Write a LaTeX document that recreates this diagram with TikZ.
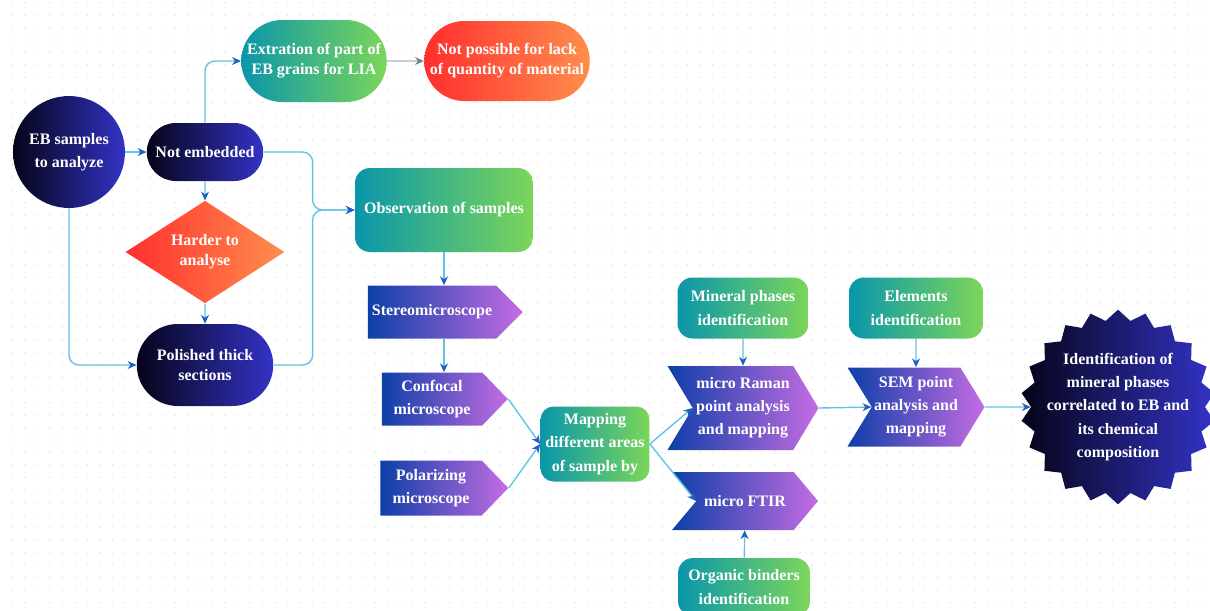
\documentclass[tikz,border=0pt]{standalone}
\usepackage{fontspec}
\setmainfont{Liberation Serif}
\usetikzlibrary{arrows.meta,shapes.geometric,shapes.misc,shapes.symbols}

\definecolor{darkL}{HTML}{050418}
\definecolor{darkR}{HTML}{3333C6}
\definecolor{greenL}{HTML}{0A96AA}
\definecolor{greenR}{HTML}{7CD65A}
\definecolor{purpL}{HTML}{0D3FA8}
\definecolor{purpR}{HTML}{C46CE2}
\definecolor{redL}{HTML}{FF2E2E}
\definecolor{redR}{HTML}{FF8E4C}
\definecolor{linkblue}{HTML}{62C4E4}
\definecolor{tipblue}{HTML}{1E5EC0}
\definecolor{graylink}{HTML}{A9B5C2}
\definecolor{dotgray}{HTML}{E4E6EA}

\begin{document}
\begin{tikzpicture}[x=0.02cm, y=-0.02cm,
  >={Stealth[length=5pt,width=4.5pt,color=tipblue]},
  every node/.style={text=white, align=center, inner sep=1pt,
    font=\bfseries\fontsize{9.1}{13.2}\selectfont},
  tight/.style={font=\bfseries\fontsize{9.1}{11.4}\selectfont},
  darkpill/.style={rounded rectangle, tight, left color=darkL, right color=darkR},
  redpill/.style={rounded rectangle, tight, left color=redL, right color=redR},
  greenpill/.style={rounded rectangle, tight, left color=greenL, right color=greenR},
  greenbox/.style={rectangle, rounded corners=0.3cm, left color=greenL, right color=greenR},
  tool/.style={signal, signal to=east, left color=purpL, right color=purpR},
  chevron/.style={tool, signal from=west},
  conn/.style={draw=linkblue, line width=0.8pt, rounded corners=0.2cm}]
\useasboundingbox (0,0) rectangle (1210,610);
\fill[white] (0,0) rectangle (1210,610);
\clip (0,0) rectangle (1210,610);
\foreach \i in {1,...,96}
  \foreach \j in {0,...,48}
    \fill[dotgray] (12.5*\i, 2.5+12.5*\j) circle (0.018cm);

%%%%%%%%%%%%%%%%%%%%%% Preparation

\draw (69,152) node[circle, minimum size=2.24cm, left color=darkL, right color=darkR] (eb)
  {EB samples\\to analyze};
%% not embedded
\draw (eb) ++(136,0) node[darkpill, minimum width=2.4cm, minimum height=1.16cm] (notemb)
  {Not embedded};
\path[conn, ->] (eb) -- (notemb);
%% extraction
\draw (notemb) ++(109,-91) node[greenpill, minimum width=2.98cm, minimum height=1.64cm] (extr)
  {Extration of part of\\EB grains for LIA};
\path[conn, ->] (notemb) |- (extr);
\draw (extr) ++(193,0) node[redpill, minimum width=3.2cm, minimum height=1.6cm] (notposs)
  {Not possible for lack\\of quantity of material};
\path[draw=graylink, line width=0.8pt, ->, >={Stealth[length=5pt,width=4.5pt,color=graylink!70!black]}]
  (extr) -- (notposs);
%% harder
\draw (notemb) ++(0,100) node[diamond, tight, left color=redL, right color=redR, inner sep=0pt,
  minimum width=3.18cm, minimum height=1.92cm] (harder) {Harder to\\analyse};
\path[conn, ->] (notemb) -- (harder);
%% polished
\draw (harder) ++(0,113) node[darkpill, minimum width=2.8cm, minimum height=1.64cm] (polished)
  {Polished thick\\sections};
\path[conn, ->] (harder) -- (polished);
\path[conn, ->] (eb) |- (polished);

%%%%%%%%%%%%%%%%%%%%%% Observation

\draw (notemb) ++(239,58) node[greenbox, minimum width=3.56cm, minimum height=1.68cm] (observ)
  {Observation of samples};
\draw (observ.west) ++(-42,0) coordinate (jn);
\path[conn, ->] (notemb) -| (jn) -- (observ);
\path[conn, ->] (polished) -| (jn) -- (observ);
%% microscopes
\draw (observ) ++(-12,102) node[tool, signal pointer angle=90, minimum width=3.1cm, minimum height=1.06cm] (stereo)
  {Stereomicroscope};
\path[conn, ->] (observ.south) -- (observ.south |- stereo.north);
\draw (stereo) ++(0,87) node[tool, signal pointer angle=92, minimum width=2.52cm, minimum height=1.06cm] (confocal)
  {Confocal\\microscope};
\path[conn, ->] (observ.south |- stereo.south) -- (observ.south |- confocal.north);
\draw (confocal) ++(-1,89) node[tool, signal pointer angle=92, minimum width=2.56cm, minimum height=1.1cm] (polar)
  {Polarizing\\microscope};
%% mapping
\draw (confocal) ++(163,45) node[greenbox, rounded corners=0.26cm, minimum width=2.18cm, minimum height=1.5cm] (mapping)
  {Mapping\\different areas\\of sample by};
\path[conn, ->] (confocal.east) -- (mapping.west);
\path[conn, ->] (polar.east) -- (mapping.west);

%%%%%%%%%%%%%%%%%%%%%% Analyses

\draw (mapping) ++(148,-136) node[greenbox, minimum width=2.62cm, minimum height=1.22cm] (mineral)
  {Mineral phases\\identification};
\draw (mineral) ++(0,100) node[chevron, signal pointer angle=118, minimum width=3.02cm, minimum height=1.68cm] (raman)
  {micro Raman\\point analysis\\and mapping};
\path[conn, ->] (mineral) -- (raman);
\path[conn, ->] (mapping.east) -- (raman.west);
%% ftir
\draw (raman) ++(2,93) node[chevron, signal pointer angle=100, minimum width=2.92cm, minimum height=1.16cm] (ftir)
  {micro FTIR};
\path[conn, ->] (mapping.east) -- (ftir.west);
\draw (ftir) ++(-1,86) node[greenbox, minimum width=2.64cm, minimum height=1.16cm] (organic)
  {Organic binders\\identification};
\path[conn, ->] (organic) -- (ftir);
%% sem
\draw (mineral) ++(173,0) node[greenbox, minimum width=2.68cm, minimum height=1.22cm] (elements)
  {Elements\\identification};
\draw (elements) ++(0,99) node[chevron, signal pointer angle=117, minimum width=2.74cm, minimum height=1.58cm] (sem)
  {SEM point\\analysis and\\mapping};
\path[conn, ->] (elements) -- (sem);
\path[conn, ->] (raman.east) -- (sem.west);
%% result
\draw (sem) ++(202,0) node[star, star points=22, star point ratio=1.12, inner sep=-5.5pt,
  left color=darkL, right color=darkR] (burst)
  {Identification of\\mineral phases\\correlated to EB and\\its chemical\\composition};
\path[conn, ->] (sem.east) -- (burst);
\end{tikzpicture}
\end{document}
